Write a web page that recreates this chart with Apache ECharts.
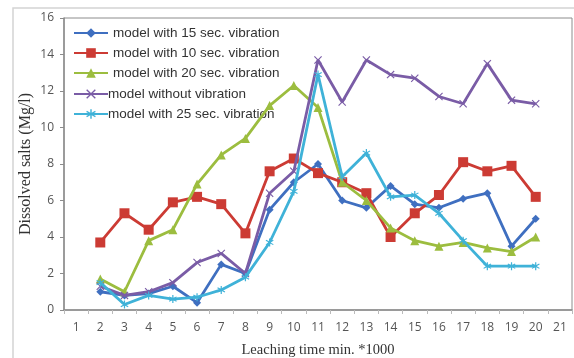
<!DOCTYPE html>
<html>
<head>
<meta charset="utf-8">
<script src="https://cdn.jsdelivr.net/npm/echarts@6/dist/echarts.min.js"></script>
<style>
  html, body { margin: 0; padding: 0; background: #fff; }
  #chart { width: 574px; height: 358px; }
</style>
</head>
<body>
<div id="chart"></div>
<script>
// Leaching time categories (min. *1000)
const categories = ['1','2','3','4','5','6','7','8','9','10','11','12','13','14','15','16','17','18','19','20','21'];

// Dissolved salts (Mg/l) per model, measured at times 2..20 (none at 1 and 21)
const vib15 = [null, 1.0, 0.8, 0.9, 1.3, 0.4, 2.5, 2.0, 5.5, 7.0, 8.0, 6.0, 5.6, 6.8, 5.8, 5.6, 6.1, 6.4, 3.5, 5.0, null];
const vib10 = [null, 3.7, 5.3, 4.4, 5.9, 6.2, 5.8, 4.2, 7.6, 8.3, 7.5, 7.0, 6.4, 4.0, 5.3, 6.3, 8.1, 7.6, 7.9, 6.2, null];
const vib20 = [null, 1.7, 1.0, 3.8, 4.4, 6.9, 8.5, 9.4, 11.2, 12.3, 11.1, 7.0, 6.0, 4.5, 3.8, 3.5, 3.7, 3.4, 3.2, 4.0, null];
const noVib = [null, 1.3, 0.8, 1.0, 1.5, 2.6, 3.1, 2.0, 6.4, 7.6, 13.7, 11.4, 13.7, 12.9, 12.7, 11.7, 11.3, 13.5, 11.5, 11.3, null];
const vib25 = [null, 1.5, 0.3, 0.8, 0.6, 0.7, 1.1, 1.8, 3.7, 6.5, 12.9, 7.3, 8.6, 6.2, 6.3, 5.3, 3.8, 2.4, 2.4, 2.4, null];

const yTicks = { min: 0, max: 16, interval: 2 };

const seriesNames = [
  'model with 15 sec. vibration',
  'model with 10 sec. vibration',
  'model with 20 sec. vibration',
  'model without vibration',
  'model with 25 sec. vibration'
];

const colors = ['#3f6fc0', '#cc3b34', '#9cbd3f', '#7a5ca6', '#3fb2d8'];

// marker shapes: x-cross and asterisk drawn as paths
const xSymbol = 'path://M1,0L5,4L9,0L10,1L6,5L10,9L9,10L5,6L1,10L0,9L4,5L0,1Z';
const starSymbol = 'path://M4.3,0H5.7V3.6L8.9,1.7L9.6,2.9L6.4,4.8V5.2L9.6,7.1L8.9,8.3L5.7,6.4V10H4.3V6.4L1.1,8.3L0.4,7.1L3.6,5.2V4.8L0.4,2.9L1.1,1.7L4.3,3.6Z';

const symbols = ['diamond', 'rect', 'triangle', xSymbol, starSymbol];
const symbolSizes = [8, 10, 9, 8, 8];
const dataSets = [vib15, vib10, vib20, noVib, vib25];

const chart = echarts.init(document.getElementById('chart'), null, { renderer: 'canvas' });

const series = dataSets.map((d, i) => ({
  name: seriesNames[i],
  type: 'line',
  data: d,
  symbol: symbols[i],
  symbolSize: symbolSizes[i],
  showAllSymbol: true,
  connectNulls: false,
  lineStyle: { width: 2.8, color: colors[i] },
  itemStyle: { color: colors[i], borderWidth: 0 },
  z: 2 + i
}));

const legendText = { fontFamily: 'Liberation Sans', fontSize: 13.5, color: '#333' };

chart.setOption({
  animation: false,
  backgroundColor: '#ffffff',
  color: colors,
  graphic: [{
    type: 'rect',
    shape: { x: 13, y: 8, width: 570, height: 360 },
    style: { fill: 'none', stroke: '#d4d4d4', lineWidth: 1.5 },
    silent: true,
    z: -1
  }],
  grid: {
    left: 64, right: 2, top: 18, bottom: 48,
    containLabel: false,
    outerBoundsMode: 'none',
    show: true,
    borderColor: '#8c8c8c',
    borderWidth: 1
  },
  legend: [{
    orient: 'vertical',
    left: 68,
    top: 23,
    padding: [3, 5],
    itemGap: 6,
    itemWidth: 34,
    itemHeight: 12,
    textStyle: legendText,
    data: seriesNames.slice(0, 3)
  }, {
    orient: 'vertical',
    left: 68,
    top: 84,
    padding: [3, 5],
    itemGap: 6,
    itemWidth: 34,
    itemHeight: 12,
    textStyle: Object.assign({}, legendText, { padding: [0, 0, 0, -5] }),
    data: seriesNames.slice(3)
  }],
  xAxis: {
    type: 'category',
    data: categories,
    boundaryGap: true,
    name: 'Leaching time min. *1000',
    nameLocation: 'middle',
    nameGap: 33,
    nameMoveOverlap: false,
    nameTextStyle: { fontFamily: 'Liberation Serif', fontSize: 14.5, color: '#333' },
    axisLine: { lineStyle: { color: '#8c8c8c', width: 1.5 } },
    axisTick: { show: true, alignWithLabel: false, length: 4, lineStyle: { color: '#bbb' } },
    axisLabel: { fontFamily: 'Open Sans', fontSize: 12, color: '#555', margin: 12 },
    splitLine: { show: false }
  },
  yAxis: {
    type: 'value',
    min: yTicks.min,
    max: yTicks.max,
    interval: yTicks.interval,
    name: 'Dissolved salts (Mg/l)',
    nameLocation: 'middle',
    nameGap: 30,
    nameMoveOverlap: false,
    nameTextStyle: { fontFamily: 'Liberation Serif', fontSize: 16, color: '#333' },
    axisLine: { show: true, lineStyle: { color: '#8c8c8c', width: 1.5 } },
    axisTick: { show: true, length: 4, lineStyle: { color: '#8c8c8c' } },
    axisLabel: { fontFamily: 'Open Sans', fontSize: 12, color: '#555', margin: 10 },
    splitLine: { show: false }
  },
  series: series
});
</script>
</body>
</html>
